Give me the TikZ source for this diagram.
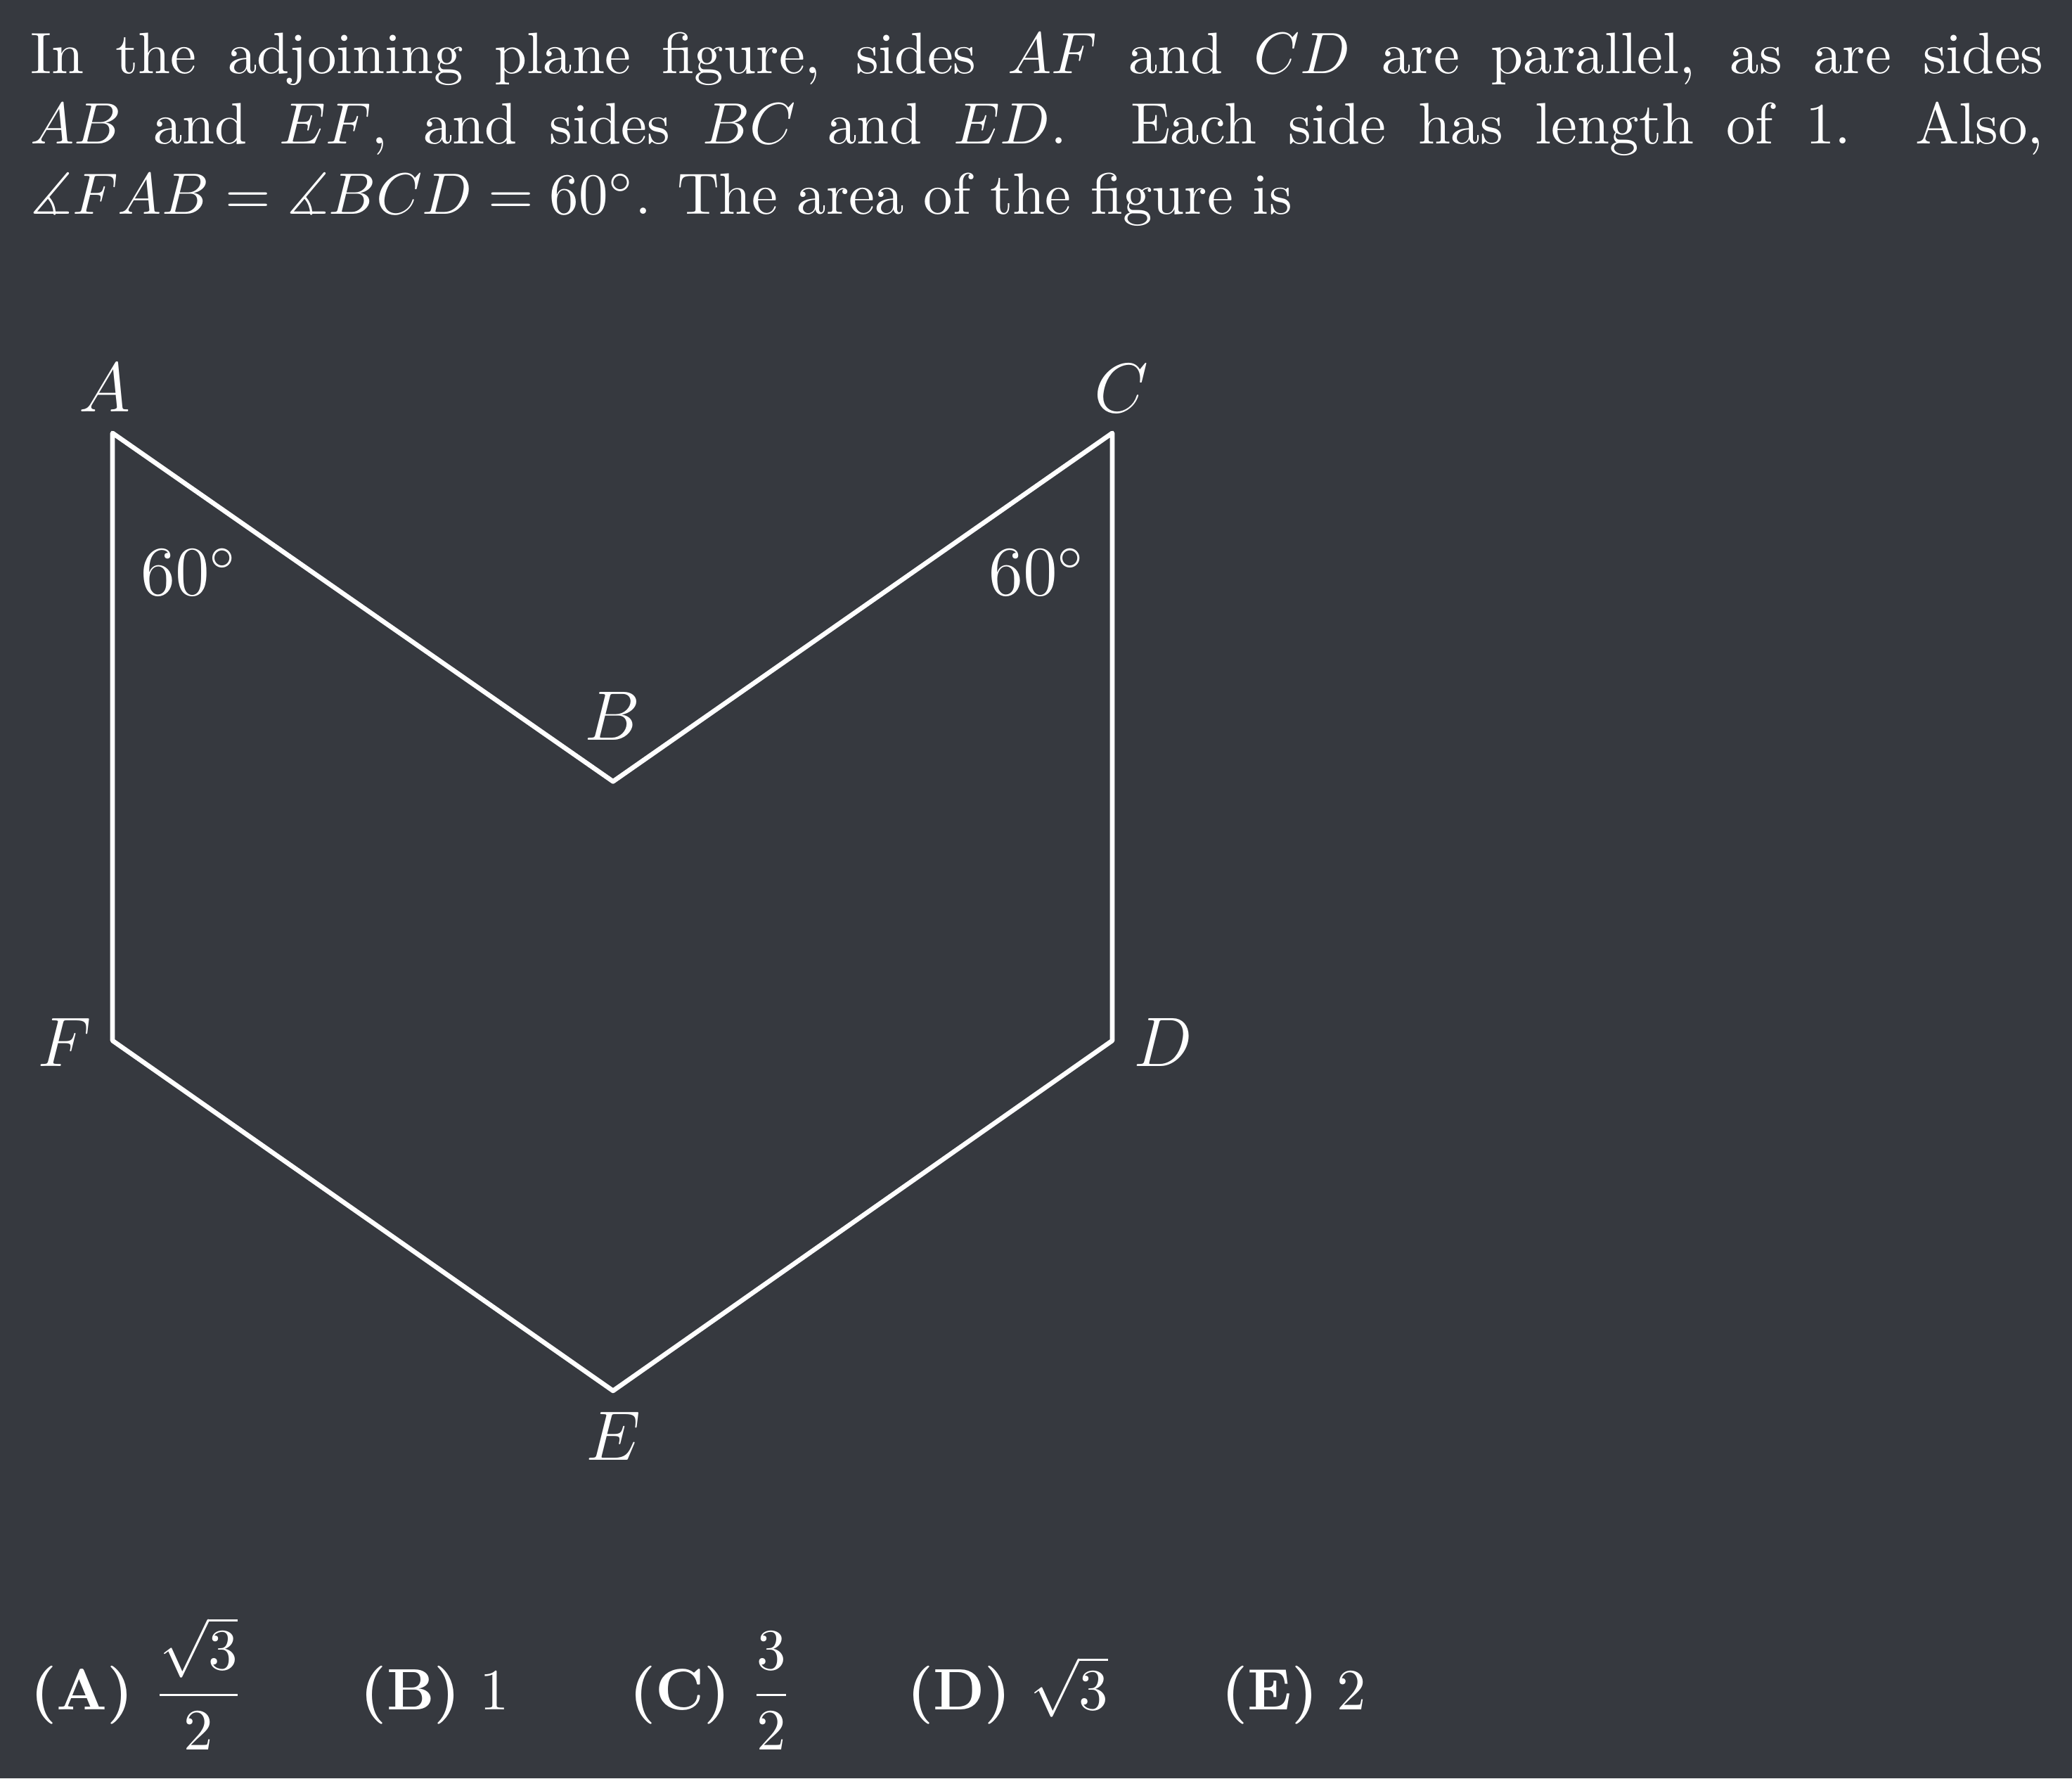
\documentclass[tikz,border=0pt]{standalone}
\usepackage{amsmath,amssymb}
\definecolor{bg}{HTML}{36393F}
\begin{document}
\begin{tikzpicture}[x=1pt,y=1pt,
  every node/.style={text=white, inner sep=0pt},
  edge/.style={draw=white, line width=0.8pt, line join=round},
  vlabel/.style={font=\fontsize{12}{14.4}\selectfont, anchor=base},
  anglab/.style={font=\fontsize{12}{14.4}\selectfont, anchor=base west},
  answer/.style={font=\fontsize{10}{12}\selectfont, anchor=base west}]
\fill[bg] (0,0) rectangle (355.06,-304.7);
\useasboundingbox (0,0) rectangle (355.06,-304.7);
% question text
\node[anchor=base west] (q) at (5,-12.65) {\parbox[t]{345pt}{\fontsize{10}{12}\selectfont
In the adjoining plane figure, sides $AF$ and $CD$ are parallel, as are sides\linebreak $AB$ and $EF$, and sides $BC$ and $ED$.  Each side has length of $1$.  Also,\linebreak $\measuredangle FAB = \measuredangle BCD = 60^\circ$. The area of the figure is}};
% vertices
\coordinate (A) at (19.28,-74.2);
\coordinate (B) at (105.05,-133.9);
\coordinate (C) at (190.6,-74.2);
\coordinate (D) at (190.6,-178.3);
\coordinate (E) at (105.05,-238.3);
\coordinate (F) at (19.28,-178.3);
\draw[edge] (A) -- (B) -- (C) -- (D) -- (E) -- (F) -- cycle;
% vertex labels
\node[vlabel] (lA) at (17.9,-70.6) {$A$};
\node[vlabel] (lB) at (105.0,-126.8) {$B$};
\node[vlabel] (lC) at (192.2,-70.7) {$C$};
\node[vlabel] (lD) at (199.3,-182.7) {$D$};
\node[vlabel] (lE) at (105.1,-250.2) {$E$};
\node[vlabel] (lF) at (11.1,-182.7) {$F$};
% angle labels
\node[anglab] (angA) at (24.0,-102.0) {$60^\circ$};
\node[anglab] (angC) at (169.3,-102.0) {$60^\circ$};
% answers
\node[answer] (ansA) at (5.0,-292.9) {$\textbf{(A)}\ \dfrac{\sqrt{3}}{2}$};
\node[answer] (ansB) at (61.6,-292.9) {$\textbf{(B)}\ 1$};
\node[answer] (ansC) at (107.7,-292.9) {$\textbf{(C)}\ \dfrac{3}{2}$};
\node[answer] (ansD) at (155.3,-292.9) {$\textbf{(D)}\ \sqrt{3}$};
\node[answer] (ansE) at (209.1,-292.9) {$\textbf{(E)}\ 2$};
\end{tikzpicture}
\end{document}
